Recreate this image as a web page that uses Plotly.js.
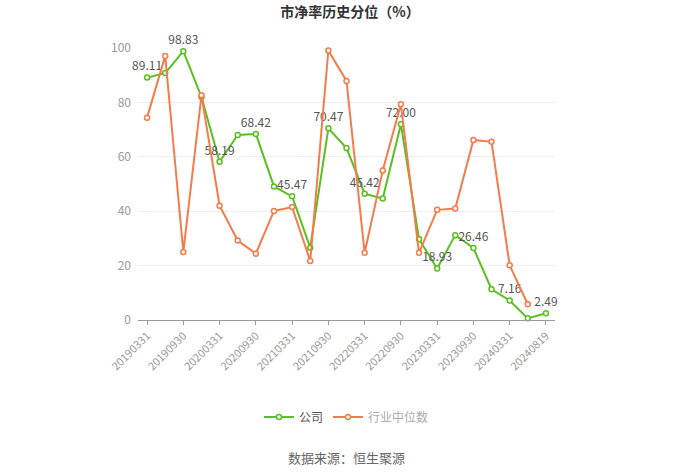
<!DOCTYPE html>
<html>
<head>
<meta charset="utf-8">
<script src="https://cdn.plot.ly/plotly-3.0.1.min.js"></script>
<style>html,body{margin:0;padding:0;background:#fff;}#chart{width:700px;height:473px;}</style>
</head>
<body>
<div id="chart"></div>
<script>
const dates = ["20190331","20190630","20190930","20191231","20200331","20200630","20200930","20201231",
  "20210331","20210630","20210930","20211231","20220331","20220630","20220930","20221231",
  "20230331","20230630","20230930","20231231","20240331","20240630","20240819"];
const companyValues = [89.11, 90.8, 98.83, 82.0, 58.19, 68.0, 68.42, 49.1, 45.47, 26.6, 70.47, 63.2,
  46.42, 44.7, 72.00, 29.7, 18.93, 31.2, 26.46, 11.3, 7.16, 0.6, 2.49];
const industryValues = [74.4, 97.1, 25.0, 82.6, 42.0, 29.2, 24.4, 40.1, 41.5, 21.7, 99.1, 87.9,
  24.7, 55.0, 79.3, 24.7, 40.5, 41.0, 66.2, 65.5, 20.1, 5.8, null];
const labelIndices = [0, 2, 4, 6, 8, 10, 12, 14, 16, 18, 20, 22];
const tickDates = ["20190331","20190930","20200331","20200930","20210331","20210930",
  "20220331","20220930","20230331","20230930","20240331","20240819"];

const companyText = companyValues.map((v, i) => labelIndices.includes(i) ? v.toFixed(2) : "");

const FONT = "'Noto Sans CJK SC', 'Noto Sans', sans-serif";
const green = "#5bbf21";
const orange = "#f47c4c";

const traces = [
  {
    x: dates, y: companyValues, name: "公司", type: "scatter", mode: "lines+markers+text",
    text: companyText, textposition: "top center", cliponaxis: false,
    textfont: {family: FONT, size: 12, color: "#555"},
    line: {color: green, width: 2},
    marker: {symbol: "circle", size: 5, color: "#fff", line: {color: green, width: 1.5}},
    hoverinfo: "x+y"
  },
  {
    x: dates, y: industryValues, name: "<span style='color:#aaa'>行业中位数</span>", type: "scatter", mode: "lines+markers",
    cliponaxis: false,
    line: {color: orange, width: 2},
    marker: {symbol: "circle", size: 5, color: "#fff", line: {color: orange, width: 1.5}},
    hoverinfo: "x+y"
  }
];

const layout = {
  width: 700, height: 473,
  margin: {l: 138, r: 145, t: 48, b: 153},
  paper_bgcolor: "#fff", plot_bgcolor: "#fff",
  font: {family: FONT, color: "#333"},
  title: {text: "<b>市净率历史分位（%）</b>", x: 0.5, xanchor: "center", y: 0.975, yanchor: "middle",
    font: {family: FONT, size: 14, color: "#333"}},
  xaxis: {
    type: "category", range: [-0.5, 22.5],
    tickvals: tickDates, ticktext: tickDates, tickangle: -45,
    tickfont: {family: FONT, size: 11, color: "#999"},
    showline: true, linecolor: "#999", linewidth: 1,
    ticks: "outside", ticklen: 4, tickcolor: "#999",
    showgrid: false, zeroline: false, fixedrange: true
  },
  yaxis: {
    range: [0, 100], tickvals: [0, 20, 40, 60, 80, 100],
    tickfont: {family: FONT, size: 12, color: "#999"},
    showline: false, gridcolor: "#eeeeee", gridwidth: 1, zeroline: false,
    ticks: "", ticklabelstandoff: 6, fixedrange: true
  },
  showlegend: true,
  legend: {orientation: "h", x: 0.5, xanchor: "center", y: -0.357, yanchor: "middle",
    font: {family: FONT, size: 12, color: "#555"}, itemwidth: 30, bgcolor: "rgba(0,0,0,0)"},
  annotations: [{
    text: "数据来源：恒生聚源", xref: "paper", yref: "paper", x: 0.5, y: -0.504,
    xanchor: "center", yanchor: "middle", showarrow: false,
    font: {family: FONT, size: 13, color: "#666"}
  }]
};

Plotly.newPlot("chart", traces, layout, {displayModeBar: false, responsive: false});
</script>
</body>
</html>
